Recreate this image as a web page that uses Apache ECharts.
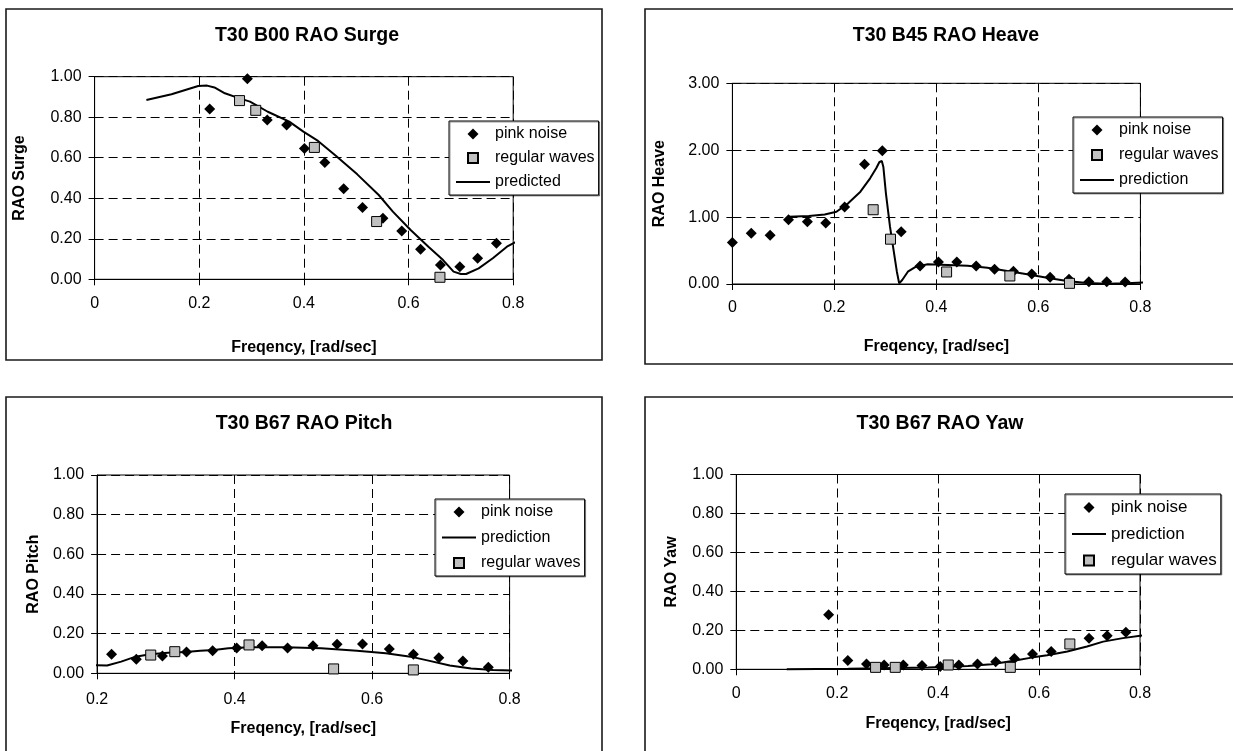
<!DOCTYPE html>
<html><head><meta charset="utf-8">
<script src="https://cdn.jsdelivr.net/npm/echarts@6/dist/echarts.min.js"></script>
<style>html,body{margin:0;padding:0;background:#fff}#c{width:1233px;height:751px}</style>
</head><body><div id="c"></div>
<script>
// ---- Surge ----
const surgePinkF = [0.220,0.292,0.330,0.367,0.401,0.440,0.476,0.512,0.551,0.587,0.623,0.661,0.698,0.732,0.768];
const surgePinkV = [0.840,0.990,0.786,0.762,0.646,0.576,0.447,0.355,0.301,0.238,0.148,0.071,0.062,0.104,0.178];
const surgeRegF = [0.277,0.308,0.420,0.539,0.660];
const surgeRegV = [0.882,0.834,0.651,0.285,0.010];
const surgePredF = [0.099,0.147,0.198,0.215,0.229,0.249,0.277,0.297,0.331,0.372,0.399,0.427,0.461,0.502,0.543,0.570,0.604,0.638,0.666,0.686,0.700,0.710,0.734,0.761,0.788,0.814];
const surgePredV = [0.885,0.913,0.954,0.956,0.947,0.918,0.893,0.877,0.827,0.778,0.729,0.683,0.610,0.518,0.416,0.334,0.243,0.161,0.095,0.038,0.026,0.026,0.054,0.104,0.161,0.197];
// ---- Heave ----
const heavePinkF = [0,0.037,0.074,0.110,0.147,0.183,0.220,0.259,0.294,0.331,0.368,0.404,0.440,0.478,0.514,0.551,0.587,0.623,0.660,0.699,0.734,0.770];
const heavePinkV = [0.62,0.76,0.73,0.96,0.93,0.91,1.15,1.79,1.99,0.78,0.27,0.33,0.33,0.27,0.22,0.19,0.15,0.10,0.07,0.035,0.035,0.03];
const heaveRegF = [0.276,0.310,0.420,0.544,0.661];
const heaveRegV = [1.11,0.67,0.18,0.12,0.01];
const heavePredF = [0.110,0.150,0.181,0.204,0.227,0.251,0.270,0.282,0.288,0.293,0.296,0.301,0.309,0.317,0.3225,0.327,0.333,0.344,0.360,0.383,0.422,0.461,0.500,0.539,0.578,0.617,0.656,0.695,0.734,0.773,0.817];
const heavePredV = [1.007,1.017,1.04,1.08,1.206,1.38,1.58,1.73,1.82,1.84,1.75,1.355,0.857,0.458,0.184,0.01,0.06,0.184,0.259,0.294,0.284,0.274,0.244,0.194,0.145,0.095,0.045,0.015,0.005,0.01,0.025];
// ---- Pitch ----
const pitchPinkF = [0.221,0.257,0.295,0.330,0.368,0.403,0.440,0.477,0.514,0.549,0.586,0.625,0.660,0.697,0.732,0.769];
const pitchPinkV = [0.096,0.071,0.087,0.108,0.114,0.128,0.139,0.128,0.139,0.146,0.148,0.123,0.096,0.079,0.062,0.030];
const pitchRegF = [0.278,0.313,0.421,0.544,0.660];
const pitchRegV = [0.092,0.109,0.143,0.022,0.017];
const pitchPredF = [0.191,0.2145,0.235,0.256,0.277,0.303,0.329,0.350,0.370,0.391,0.422,0.474,0.526,0.578,0.620,0.656,0.682,0.713,0.744,0.776,0.810];
const pitchPredV = [0.042,0.039,0.059,0.084,0.096,0.104,0.108,0.114,0.118,0.126,0.131,0.131,0.126,0.114,0.101,0.084,0.064,0.039,0.024,0.017,0.013];
// ---- Yaw ----
const yawPinkF = [0.183,0.221,0.258,0.293,0.331,0.368,0.404,0.441,0.478,0.514,0.551,0.587,0.624,0.699,0.735,0.772];
const yawPinkV = [0.28,0.045,0.027,0.022,0.022,0.019,0.014,0.022,0.027,0.039,0.055,0.079,0.091,0.16,0.172,0.19];
const yawRegF = [0.276,0.315,0.420,0.543,0.661];
const yawRegV = [0.01,0.01,0.022,0.01,0.13];
const yawPredF = [0.100,0.222,0.380,0.459,0.506,0.553,0.585,0.616,0.656,0.695,0.727,0.766,0.815];
const yawPredV = [0.0,0.003,0.009,0.017,0.026,0.045,0.060,0.072,0.091,0.117,0.142,0.160,0.177];

const titles = ['T30 B00 RAO Surge','T30 B45 RAO Heave','T30 B67 RAO Pitch','T30 B67 RAO Yaw'];
const yNames = ['RAO Surge','RAO Heave','RAO Pitch','RAO Yaw'];
const xName = 'Freqency, [rad/sec]';
const legendOrders = [
  ['pink noise','regular waves','predicted'],
  ['pink noise','regular waves','prediction'],
  ['pink noise','prediction','regular waves'],
  ['pink noise','prediction','regular waves']
];

const FONT = '"Liberation Sans", Arial, sans-serif';
const zip = (f, v) => f.map((x, i) => [x, v[i]]);

// legend icons: invisible move-to points fix the icon box so the marker keeps its shape
const ICON_DIAMOND = 'path://M0,0 M34,12 M17,0.5 L22.5,6 L17,11.5 L11.5,6 Z';
const ICON_SQUARE = 'path://M0,0 M34,12 M12,1 L22,1 L22,11 L12,11 Z';
const legendIcon = {'pink noise':ICON_DIAMOND, 'regular waves':ICON_SQUARE};

const layout = [
  {grid:{left:94.6,top:76.7,width:418.6,height:202.6}, xMin:0, yMax:1, yInt:0.2, titleX:307, titleY:26, xGap:60, yGap:67, xMargin:16,
   legend:{left:449,top:121,fs:16,gap:8}, frame:[6,9,596,351]},
  {grid:{left:732.4,top:83.3,width:408,height:200.7}, xMin:0, yMax:3, yInt:1, titleX:946, titleY:26, xGap:55, yGap:65, xMargin:16,
   legend:{left:1073,top:117,fs:16,gap:9}, frame:[645,9,620,355]},
  {grid:{left:97.1,top:475,width:412.5,height:198.3}, xMin:0.2, yMax:1, yInt:0.2, titleX:304, titleY:414, xGap:47, yGap:56, xMargin:18,
   legend:{left:435,top:499,fs:16,gap:9.5}, frame:[6,397,596,400]},
  {grid:{left:736.3,top:474.5,width:403.7,height:194.8}, xMin:0, yMax:1, yInt:0.2, titleX:940, titleY:414, xGap:46, yGap:57, xMargin:16,
   legend:{left:1065,top:494,fs:17,gap:9.5}, frame:[645,397,620,400]}
];

const seriesData = [
  {pink:zip(surgePinkF,surgePinkV), reg:zip(surgeRegF,surgeRegV), pred:zip(surgePredF,surgePredV), predName:'predicted'},
  {pink:zip(heavePinkF,heavePinkV), reg:zip(heaveRegF,heaveRegV), pred:zip(heavePredF,heavePredV), predName:'prediction'},
  {pink:zip(pitchPinkF,pitchPinkV), reg:zip(pitchRegF,pitchRegV), pred:zip(pitchPredF,pitchPredV), predName:'prediction'},
  {pink:zip(yawPinkF,yawPinkV), reg:zip(yawRegF,yawRegV), pred:zip(yawPredF,yawPredV), predName:'prediction'}
];

const dash = [9,5];
const option = {
  animation:false,
  backgroundColor:'#fff',
  textStyle:{fontFamily:FONT, color:'#000'},
  title:[], grid:[], xAxis:[], yAxis:[], legend:[], series:[], graphic:[]
};

layout.forEach((L, i) => {
  option.title.push({text:titles[i], left:L.titleX, top:L.titleY, textAlign:'center', padding:0,
    textStyle:{fontFamily:FONT, fontSize:19.5, fontWeight:'bold', color:'#000'}});
  option.grid.push(Object.assign({show:true, borderColor:'#000', borderWidth:1, backgroundColor:'transparent',
    containLabel:false, outerBoundsMode:'none'}, L.grid));
  option.xAxis.push({type:'value', gridIndex:i, min:L.xMin, max:0.8, interval:0.2,
    name:xName, nameLocation:'middle', nameGap:L.xGap,
    nameTextStyle:{fontFamily:FONT, fontSize:16, fontWeight:'bold', color:'#000'},
    axisLine:{show:true, onZero:false, lineStyle:{color:'#000', width:1}},
    axisTick:{show:true, inside:false, length:6, lineStyle:{color:'#000'}},
    axisLabel:{margin:L.xMargin, fontFamily:FONT, fontSize:16, color:'#000',
      formatter:v => (Math.abs(v) < 1e-9 ? '0' : v.toFixed(1))},
    splitLine:{show:true, lineStyle:{color:'#000', width:1, type:dash}}});
  option.yAxis.push({type:'value', gridIndex:i, min:0, max:L.yMax, interval:L.yInt,
    name:yNames[i], nameLocation:'middle', nameGap:L.yGap,
    nameTextStyle:{fontFamily:FONT, fontSize:16, fontWeight:'bold', color:'#000'},
    axisLine:{show:true, onZero:false, lineStyle:{color:'#000', width:1}},
    axisTick:{show:true, inside:false, length:6, lineStyle:{color:'#000'}},
    axisLabel:{margin:13, fontFamily:FONT, fontSize:16, color:'#000', formatter:v => v.toFixed(2)},
    splitLine:{show:true, lineStyle:{color:'#000', width:1, type:dash}}});
  option.legend.push({orient:'vertical', left:L.legend.left, top:L.legend.top,
    data:legendOrders[i].map(n => legendIcon[n] ? {name:n, icon:legendIcon[n]} : {name:n}),
    itemWidth:34, itemHeight:12, itemGap:L.legend.gap, padding:[5,4,5,6], selectedMode:false,
    backgroundColor:'#fff', borderColor:'#000', borderWidth:1,
    shadowColor:'rgba(0,0,0,0.4)', shadowOffsetX:1, shadowOffsetY:1, shadowBlur:0,
    textStyle:{fontFamily:FONT, fontSize:L.legend.fs, color:'#000'}, z:20});
  const D = seriesData[i];
  option.series.push({type:'scatter', name:'pink noise', xAxisIndex:i, yAxisIndex:i, data:D.pink,
    symbol:'diamond', symbolSize:11, itemStyle:{color:'#000', opacity:1}, z:3});
  option.series.push({type:'line', name:D.predName, xAxisIndex:i, yAxisIndex:i, data:D.pred,
    symbol:'circle', symbolSize:0, showSymbol:false, clip:false,
    lineStyle:{color:'#000', width:2}, itemStyle:{color:'rgba(0,0,0,0)', borderWidth:0}, z:4});
  option.series.push({type:'scatter', name:'regular waves', xAxisIndex:i, yAxisIndex:i, data:D.reg,
    symbol:'rect', symbolSize:10,
    itemStyle:{color:'#c0c0c0', borderColor:'#000', borderWidth:1, opacity:1}, z:5});
  const f = L.frame;
  option.graphic.push({type:'rect', silent:true, z:-10, shape:{x:f[0], y:f[1], width:f[2], height:f[3]},
    style:{fill:'none', stroke:'#1a1a1a', lineWidth:1.6}});
});

const chart = echarts.init(document.getElementById('c'), null, {renderer:'canvas'});
chart.setOption(option);
</script></body></html>
